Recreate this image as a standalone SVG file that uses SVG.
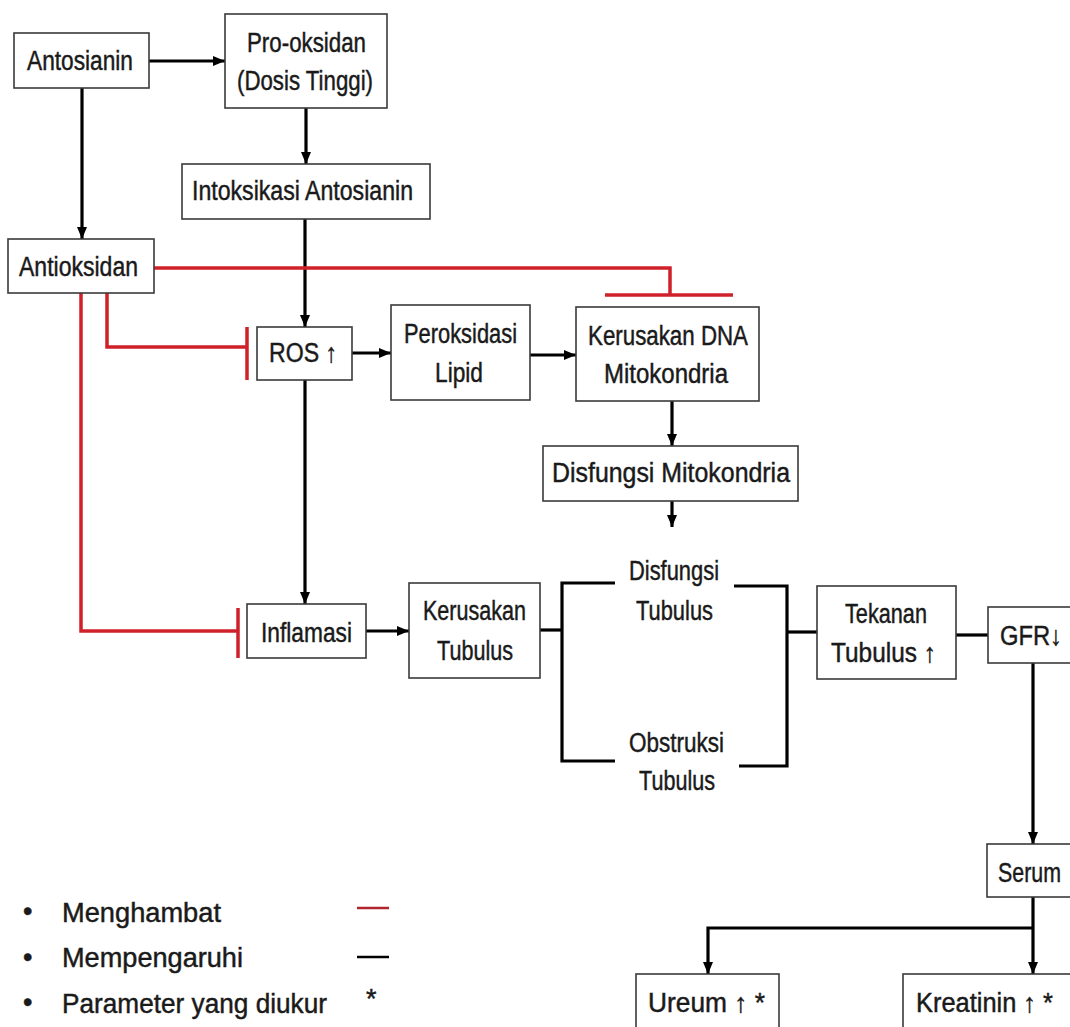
<svg xmlns="http://www.w3.org/2000/svg" width="1070" height="1027" viewBox="0 0 1070 1027">
<style>
.box{fill:#fff;stroke:#3a3a3a;stroke-width:1.6}
.t{font-family:"Liberation Sans","DejaVu Sans",Arial,sans-serif;font-size:27px;fill:#1a1a1a;stroke:#1a1a1a;stroke-width:0.45}
.k{fill:none;stroke:#000;stroke-width:3.2}
.r{fill:none;stroke:#d0202a;stroke-width:3.5}
</style>
<defs>
<marker id="ah" markerUnits="userSpaceOnUse" markerWidth="12" markerHeight="12" viewBox="0 0 12 12" refX="12" refY="6" orient="auto">
<path d="M0,1 L12,6 L0,11 Z" fill="#000"/>
</marker>
</defs>
<rect width="1070" height="1027" fill="#fff"/>

<g id="connectors">
<path class="k" d="M149,61 H225" marker-end="url(#ah)"/>
<path class="k" d="M306,108 V164" marker-end="url(#ah)"/>
<path class="k" d="M82,88 V239" marker-end="url(#ah)"/>
<path class="k" d="M305,219 V327" marker-end="url(#ah)"/>
<path class="k" d="M352,353 H391" marker-end="url(#ah)"/>
<path class="k" d="M530,355 H576" marker-end="url(#ah)"/>
<path class="k" d="M672,401 V446" marker-end="url(#ah)"/>
<path class="k" d="M672,501 V527" marker-end="url(#ah)"/>
<path class="k" d="M305,380 V604" marker-end="url(#ah)"/>
<path class="k" d="M366,631 H409" marker-end="url(#ah)"/>
<path class="k" d="M540,630 H562"/>
<path class="k" d="M615,583 H562 V761 H615"/>
<path class="k" d="M734,586 H787 V766 H739"/>
<path class="k" d="M787,632 H817"/>
<path class="k" d="M956,635 H988"/>
<path class="k" d="M1033,663 V844" marker-end="url(#ah)"/>
<path class="k" d="M1033,897 V974" marker-end="url(#ah)"/>
<path class="k" d="M1033,928 H708 V974" marker-end="url(#ah)"/>
<path class="r" d="M154,268 H670 V295"/>
<path class="r" d="M605,295 H733"/>
<path class="r" d="M107,293 V347 H247"/>
<path class="r" d="M247,327 V380"/>
<path class="r" d="M81,293 V631 H238"/>
<path class="r" d="M238,608 V658"/>
</g>

<g id="antosianin"><rect class="box" x="14" y="33" width="135" height="55"/><text class="t" x="27" y="70" textLength="106" lengthAdjust="spacingAndGlyphs">Antosianin</text></g>
<g id="prooksidan"><rect class="box" x="225" y="14" width="162" height="94"/><text class="t" x="247" y="52" textLength="119" lengthAdjust="spacingAndGlyphs">Pro-oksidan</text><text class="t" x="237" y="90" textLength="136" lengthAdjust="spacingAndGlyphs">(Dosis Tinggi)</text></g>
<g id="intoksikasi"><rect class="box" x="182" y="164" width="248" height="55"/><text class="t" x="192" y="200" textLength="221" lengthAdjust="spacingAndGlyphs">Intoksikasi Antosianin</text></g>
<g id="antioksidan"><rect class="box" x="8" y="239" width="146" height="54"/><text class="t" x="19" y="276" textLength="119" lengthAdjust="spacingAndGlyphs">Antioksidan</text></g>
<g id="ros"><rect class="box" x="257" y="327" width="95" height="53"/><text class="t" x="269" y="362" textLength="68" lengthAdjust="spacingAndGlyphs">ROS ↑</text></g>
<g id="peroksidasi"><rect class="box" x="391" y="305" width="139" height="95"/><text class="t" x="404" y="343" textLength="113" lengthAdjust="spacingAndGlyphs">Peroksidasi</text><text class="t" x="435" y="382" textLength="48" lengthAdjust="spacingAndGlyphs">Lipid</text></g>
<g id="kerusakan-dna"><rect class="box" x="576" y="307" width="183" height="94"/><text class="t" x="588" y="345" textLength="160" lengthAdjust="spacingAndGlyphs">Kerusakan DNA</text><text class="t" x="604" y="383" textLength="124" lengthAdjust="spacingAndGlyphs">Mitokondria</text></g>
<g id="disfungsi-mito"><rect class="box" x="543" y="446" width="255" height="55"/><text class="t" x="552" y="482" textLength="238" lengthAdjust="spacingAndGlyphs">Disfungsi Mitokondria</text></g>
<g id="inflamasi"><rect class="box" x="247" y="604" width="119" height="54"/><text class="t" x="261" y="642" textLength="91" lengthAdjust="spacingAndGlyphs">Inflamasi</text></g>
<g id="kerusakan-tubulus"><rect class="box" x="409" y="583" width="131" height="95"/><text class="t" x="423" y="620" textLength="103" lengthAdjust="spacingAndGlyphs">Kerusakan</text><text class="t" x="437" y="660" textLength="76" lengthAdjust="spacingAndGlyphs">Tubulus</text></g>
<g id="disfungsi-tubulus"><text class="t" x="629" y="580" textLength="90" lengthAdjust="spacingAndGlyphs">Disfungsi</text><text class="t" x="636" y="620" textLength="77" lengthAdjust="spacingAndGlyphs">Tubulus</text></g>
<g id="obstruksi-tubulus"><text class="t" x="629" y="752" textLength="95" lengthAdjust="spacingAndGlyphs">Obstruksi</text><text class="t" x="639" y="790" textLength="76" lengthAdjust="spacingAndGlyphs">Tubulus</text></g>
<g id="tekanan"><rect class="box" x="817" y="586" width="139" height="93"/><text class="t" x="845" y="623" textLength="82" lengthAdjust="spacingAndGlyphs">Tekanan</text><text class="t" x="831" y="662" textLength="105" lengthAdjust="spacingAndGlyphs">Tubulus ↑</text></g>
<g id="gfr"><rect class="box" x="988" y="607" width="90" height="56"/><text class="t" x="1000" y="645" textLength="62" lengthAdjust="spacingAndGlyphs">GFR↓</text></g>
<g id="serum"><rect class="box" x="987" y="844" width="90" height="53"/><text class="t" x="998" y="882" textLength="63" lengthAdjust="spacingAndGlyphs">Serum</text></g>
<g id="ureum"><rect class="box" x="636" y="974" width="143" height="60"/><text class="t" x="648" y="1012" textLength="117" lengthAdjust="spacingAndGlyphs">Ureum ↑ *</text></g>
<g id="kreatinin"><rect class="box" x="903" y="974" width="175" height="60"/><text class="t" x="916" y="1012" textLength="137" lengthAdjust="spacingAndGlyphs">Kreatinin ↑ *</text></g>

<g id="legend">
<text class="t" x="23" y="920">•</text>
<text class="t" x="23" y="966">•</text>
<text class="t" x="23" y="1011">•</text>
<text class="t" x="62" y="922" textLength="159" lengthAdjust="spacingAndGlyphs">Menghambat</text>
<text class="t" x="62" y="967" textLength="181" lengthAdjust="spacingAndGlyphs">Mempengaruhi</text>
<text class="t" x="62" y="1013" textLength="265" lengthAdjust="spacingAndGlyphs">Parameter yang diukur</text>
<line x1="357" y1="908" x2="389" y2="908" stroke="#b0262c" stroke-width="2.5"/>
<line x1="357" y1="957" x2="389" y2="957" stroke="#000" stroke-width="2.5"/>
<text class="t" x="366" y="1008">*</text>
</g>
</svg>
